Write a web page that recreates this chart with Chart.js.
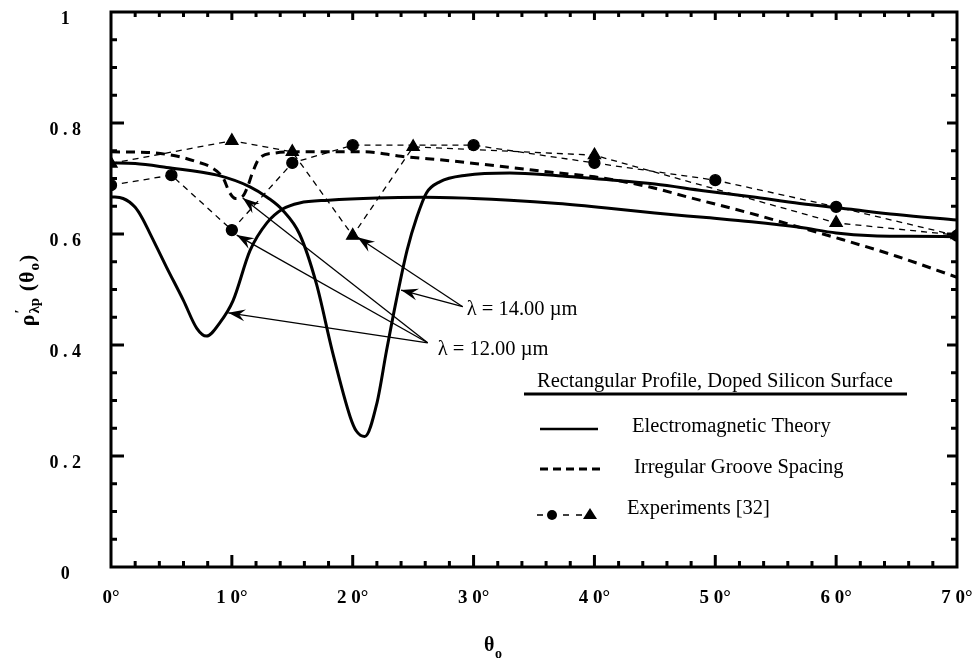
<!DOCTYPE html>
<html><head><meta charset="utf-8">
<script src="https://cdn.jsdelivr.net/npm/chart.js@4.4.1/dist/chart.umd.min.js"></script>
<style>html,body{margin:0;padding:0;background:#fff}#wrap{width:977px;height:663px;position:relative}</style>
</head><body><div id="wrap"><canvas id="c" width="977" height="663"></canvas></div>
<script>
// ---- tick labels ----
const xTickLabels = ['0°','1 0°','2 0°','3 0°','4 0°','5 0°','6 0°','7 0°'];
const yTickLabels = ['0','0 . 2','0 . 4','0 . 6','0 . 8','1'];

// ---- Electromagnetic theory, lambda = 12.00 um ----
const theory12Angle = [0,1,2,2.6,3.2,4.6,6,7.1,7.9,9,10.1,11.5,12.9,14.2,15.6,18,22,26,30,33,37,41,45,49,53,57,60,63,66,70];
const theory12Value = [0.667,0.664,0.648,0.628,0.602,0.54,0.48,0.43,0.416,0.44,0.48,0.57,0.62,0.645,0.656,0.661,0.665,0.666,0.664,0.661,0.655,0.647,0.638,0.63,0.622,0.612,0.602,0.597,0.596,0.595];

// ---- Electromagnetic theory, lambda = 14.00 um ----
const theory14Angle = [0,2,4.6,8.8,11.5,13,14.2,15.6,17,18.3,19.8,20.3,21,22,22.8,23.6,24.5,25.3,26.1,27.2,29.4,33,37,41,45,49,53,57,61,65,70];
const theory14Value = [0.728,0.727,0.72,0.706,0.685,0.665,0.643,0.60,0.51,0.39,0.27,0.245,0.235,0.295,0.39,0.48,0.571,0.63,0.674,0.694,0.706,0.71,0.705,0.698,0.69,0.678,0.667,0.655,0.645,0.635,0.625];

// ---- Irregular groove spacing ----
const irregularAngle = [0,3,5.7,7.1,8.3,9.3,9.8,10.3,10.9,11.3,11.7,12.3,13.6,15.6,21,24,28,33,37,40,44.5,48,52.8,57,60.5,65,70];
const irregularValue = [0.748,0.747,0.739,0.73,0.72,0.70,0.675,0.664,0.668,0.685,0.71,0.737,0.746,0.748,0.748,0.74,0.732,0.72,0.71,0.703,0.685,0.665,0.638,0.612,0.59,0.56,0.522];

// ---- Experiments [32] ----
const circleAngle = [0,5,10,15,20,30,40,50,60,70];
const circleValue = [0.688,0.706,0.607,0.728,0.76,0.76,0.728,0.697,0.649,0.597];
const triangleAngle = [0,10,15,20,25,40,60,70];
const triangleValue = [0.727,0.768,0.748,0.597,0.757,0.742,0.62,0.598];

// ---- annotation arrows (data coordinates) ----
const label14Text = 'λ = 14.00 µm';
const label14Anchor = [29.1, 0.469];
const label14Tips = [[20.4, 0.594], [24.0, 0.499]];
const label12Text = 'λ = 12.00 µm';
const label12Anchor = [26.2, 0.404];
const label12Tips = [[9.7, 0.458], [10.4, 0.598], [10.9, 0.665]];

// ---- legend texts ----
const legendTitle = 'Rectangular Profile, Doped Silicon Surface';
const legendLabels = ['Electromagnetic Theory', 'Irregular Groove Spacing', 'Experiments [32]'];

const pts = (xs, ys) => xs.map((v, i) => ({x: v, y: ys[i]}));
const SERIF = '"Liberation Serif", "Times New Roman", serif';

function drawArrow(ctx, x0, y0, x1, y1) {
  ctx.beginPath(); ctx.moveTo(x0, y0); ctx.lineTo(x1, y1); ctx.stroke();
  const ang = Math.atan2(y1 - y0, x1 - x0);
  const L = 17, W = 6, N = 11;
  ctx.save();
  ctx.translate(x1, y1); ctx.rotate(ang);
  ctx.beginPath();
  ctx.moveTo(0, 0);
  ctx.lineTo(-L, -W);
  ctx.lineTo(-N, 0);
  ctx.lineTo(-L, W);
  ctx.closePath(); ctx.fill();
  ctx.restore();
}

const decor = {
  id: 'decor',
  afterDatasetsDraw(chart) {
    const {ctx, chartArea: a, scales: {x, y}} = chart;
    ctx.save();
    ctx.strokeStyle = '#000'; ctx.fillStyle = '#000'; ctx.lineCap = 'butt';
    const seg = (x0, y0, x1, y1) => { ctx.beginPath(); ctx.moveTo(x0, y0); ctx.lineTo(x1, y1); ctx.stroke(); };
    // inward ticks
    ctx.lineWidth = 3;
    for (let v = 2; v < 70; v += 2) {
      const px = x.getPixelForValue(v);
      const major = v % 10 === 0;
      seg(px, a.bottom, px, a.bottom - (major ? 12 : 6));
      seg(px, a.top, px, a.top + (major ? 8 : 5));
    }
    for (let i = 1; i < 20; i++) {
      const py = y.getPixelForValue(i * 0.05);
      const major = i % 4 === 0;
      seg(a.left, py, a.left + (major ? 13 : 6), py);
      seg(a.right, py, a.right - (major ? 10 : 6), py);
    }
    // frame
    ctx.lineWidth = 3;
    ctx.strokeRect(a.left, a.top, a.right - a.left, a.bottom - a.top);

    // annotations
    ctx.lineWidth = 1.3;
    const P = (d) => [x.getPixelForValue(d[0]), y.getPixelForValue(d[1])];
    const a14 = P(label14Anchor), a12 = P(label12Anchor);
    label14Tips.forEach(t => { const p = P(t); drawArrow(ctx, a14[0], a14[1], p[0], p[1]); });
    label12Tips.forEach(t => { const p = P(t); drawArrow(ctx, a12[0], a12[1], p[0], p[1]); });
    ctx.font = '20.5px ' + SERIF;
    ctx.textBaseline = 'middle'; ctx.textAlign = 'left';
    ctx.fillText(label14Text, a14[0] + 4, a14[1] + 3);
    ctx.fillText(label12Text, a12[0] + 10, a12[1] + 7);

    // legend
    ctx.font = '20.5px ' + SERIF;
    ctx.fillText(legendTitle, 537, 382);
    ctx.lineWidth = 3; seg(524, 394, 907, 394);
    ctx.lineWidth = 2.5; seg(540, 429, 598, 429);
    ctx.fillText(legendLabels[0], 632, 427);
    ctx.setLineDash([8, 5]); ctx.lineWidth = 3; seg(540, 469, 600, 469); ctx.setLineDash([]);
    ctx.fillText(legendLabels[1], 634, 468);
    ctx.lineWidth = 1.3; ctx.setLineDash([6, 7]); seg(537, 515, 592, 515); ctx.setLineDash([]);
    ctx.beginPath(); ctx.arc(552, 515, 5, 0, Math.PI * 2); ctx.fill();
    ctx.beginPath(); ctx.moveTo(590, 508); ctx.lineTo(597, 519); ctx.lineTo(583, 519); ctx.closePath(); ctx.fill();
    ctx.fillText(legendLabels[2], 627, 509);

    // y axis title  rho'_{lambda p}(theta_o)
    ctx.save();
    ctx.translate(27, 290); ctx.rotate(-Math.PI / 2);
    const big = 'bold 22px ' + SERIF, small = 'bold 15px ' + SERIF;
    ctx.textBaseline = 'alphabetic';
    const parts = [
      {t: 'ρ', f: big, dy: 0},
      {t: '′', f: small, dy: -9, stack: true},
      {t: 'λp', f: small, dy: 5},
      {t: ' (', f: big, dy: 0},
      {t: 'θ', f: big, dy: 0},
      {t: 'o', f: small, dy: 5},
      {t: ')', f: big, dy: 0}
    ];
    let total = 0;
    parts.forEach(p => { ctx.font = p.f; p.w = ctx.measureText(p.t).width + 1; if (!p.stack) total += p.w; });
    let cx = -total / 2;
    parts.forEach(p => { ctx.font = p.f; ctx.fillText(p.t, cx, 7 + p.dy); if (!p.stack) cx += p.w; });
    ctx.restore();

    // x axis title theta_o
    ctx.font = 'bold 20px ' + SERIF; ctx.textAlign = 'left'; ctx.textBaseline = 'alphabetic';
    ctx.fillText('θ', 484, 651);
    ctx.font = 'bold 14px ' + SERIF; ctx.fillText('o', 495, 658);
    ctx.restore();
  }
};

const tickFont = {family: SERIF, size: 19, weight: 'bold'};
const zeroPad = (s) => { s.paddingTop = 0; s.paddingBottom = 0; s.paddingLeft = 0; s.paddingRight = 0; };

new Chart(document.getElementById('c'), {
  type: 'scatter',
  data: {
    datasets: [
      {label: 'theory12', data: pts(theory12Angle, theory12Value), showLine: true, borderColor: '#000', borderWidth: 3, pointRadius: 0, cubicInterpolationMode: 'monotone'},
      {label: 'theory14', data: pts(theory14Angle, theory14Value), showLine: true, borderColor: '#000', borderWidth: 3, pointRadius: 0, cubicInterpolationMode: 'monotone'},
      {label: 'irregular', data: pts(irregularAngle, irregularValue), showLine: true, borderColor: '#000', borderWidth: 3, borderDash: [9, 6], pointRadius: 0, cubicInterpolationMode: 'monotone'},
      {label: 'expCircle', data: pts(circleAngle, circleValue), showLine: true, borderColor: '#000', borderWidth: 1.3, borderDash: [6, 5], pointStyle: 'circle', pointRadius: 5.5, pointBackgroundColor: '#000', pointBorderColor: '#000', tension: 0},
      {label: 'expTriangle', data: pts(triangleAngle, triangleValue), showLine: true, borderColor: '#000', borderWidth: 1.3, borderDash: [6, 5], pointStyle: 'triangle', pointRadius: 7, pointBackgroundColor: '#000', pointBorderColor: '#000', tension: 0}
    ]
  },
  options: {
    responsive: false, animation: false,
    layout: {autoPadding: false, padding: {top: 12, right: 20, left: 0, bottom: 0}},
    plugins: {legend: {display: false}, tooltip: {enabled: false}},
    scales: {
      x: {
        type: 'linear', min: 0, max: 70,
        grid: {display: false}, border: {display: false},
        ticks: {stepSize: 10, color: '#000', font: tickFont, padding: 12, maxRotation: 0,
          callback: (v) => xTickLabels[Math.round(v / 10)]},
        afterFit: (s) => { s.height = 96; zeroPad(s); }
      },
      y: {
        type: 'linear', min: 0, max: 1,
        grid: {display: false}, border: {display: false},
        ticks: {stepSize: 0.2, color: '#000', font: {family: SERIF, size: 18, weight: 'bold'}, padding: 22, crossAlign: 'center', labelOffset: 7,
          callback: (v) => yTickLabels[Math.round(v * 5)]},
        afterFit: (s) => { s.width = 111; zeroPad(s); }
      }
    }
  },
  plugins: [decor]
});
</script>
</body></html>
